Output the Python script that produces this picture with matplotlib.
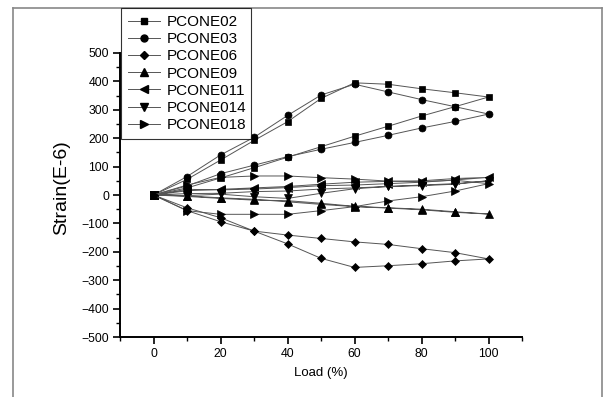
import matplotlib.pyplot as plt
from matplotlib.lines import Line2D

plt.rcParams['font.family'] = ['Liberation Sans', 'DejaVu Sans']

# load goes 0 -> 100, then back 100 -> 0
load = [0, 10, 20, 30, 40, 50, 60, 70, 80, 90, 100, 90, 80, 70, 60, 50, 40, 30, 20, 10, 0]

pcone02 = [0, 25, 60, 96, 133, 170, 207, 242, 278, 311, 345,
           360, 374, 390, 395, 340, 258, 192, 123, 55, 0]
pcone03 = [0, 32, 75, 105, 135, 161, 185, 210, 236, 259, 285,
           311, 336, 363, 390, 352, 280, 203, 141, 65, 0]
pcone06 = [0, -45, -80, -127, -141, -153, -165, -174, -189, -203, -225,
           -232, -242, -249, -255, -223, -172, -127, -94, -55, 0]
pcone09 = [0, -5, -12, -18, -20, -29, -40, -45, -50, -59, -67,
           -61, -52, -46, -41, -33, -24, -15, -10, -3, 0]
pcone011 = [0, 20, 18, 21, 26, 33, 35, 40, 45, 53, 62,
            58, 50, 48, 45, 38, 30, 25, 20, 15, 0]
pcone014 = [0, 5, 6, 12, 14, 21, 25, 30, 33, 38, 50,
            40, 35, 30, 22, 6, -12, -6, 3, -2, 0]
pcone018 = [0, -55, -68, -68, -68, -55, -41, -21, -6, 14, 40,
            52, 47, 49, 56, 61, 67, 67, 62, 35, 0]

names = ['PCONE02', 'PCONE03', 'PCONE06', 'PCONE09', 'PCONE011', 'PCONE014', 'PCONE018']
series = [pcone02, pcone03, pcone06, pcone09, pcone011, pcone014, pcone018]
markers = ['s', 'o', 'D', '^', '<', 'v', '>']
msizes = [4.8, 5.0, 4.5, 5.2, 5.2, 5.2, 5.2]

fig = plt.figure(figsize=(6.04, 3.97), dpi=100)
ax = fig.add_axes([0.1987, 0.1511, 0.6656, 0.7154])

for y, m, ms in zip(series, markers, msizes):
    ax.plot(load, y, color='#555555', lw=0.7, marker=m, ms=ms,
            mfc='black', mec='black', mew=0.5)

ax.set_xlim(-10, 110)
ax.set_ylim(-500, 500)
ax.set_xticks(range(0, 101, 20))
ax.set_xticks(range(-10, 111, 10), minor=True)
ax.set_yticks(range(-500, 501, 100))
ax.set_yticks(range(-500, 501, 50), minor=True)
ax.spines['top'].set_visible(False)
ax.spines['right'].set_visible(False)
for s in ['left', 'bottom']:
    ax.spines[s].set_linewidth(1.4)
ax.tick_params(which='major', length=5, width=1.2, labelsize=8.8, pad=3)
ax.tick_params(which='minor', length=3, width=1.0)
ax.set_xlabel('Load (%)', fontsize=9.5, labelpad=5)
ax.set_ylabel('Strain(E-6)', fontsize=14)
ax.yaxis.set_label_coords(-0.125, 0.525)

handles = [Line2D([], [], color='#555555', lw=0.7, marker=m, ms=ms, mfc='black', mec='black')
           for m, ms in zip(markers, msizes)]
leg = fig.legend(handles, names, loc='upper left', bbox_to_anchor=(0.2003, 0.6725, 0.215, 0.307),
                 mode='expand', fontsize=11, frameon=True, fancybox=False, borderpad=0.45,
                 labelspacing=0.21, handlelength=2.1, handletextpad=0.45, borderaxespad=0)
leg.get_frame().set_edgecolor('black')
leg.get_frame().set_linewidth(0.8)

# outer frame of the image
W, H = 604, 397
fig.add_artist(Line2D([13 / W, 13 / W], [0, 1 - 8 / H], color='#888888', lw=1.2))
fig.add_artist(Line2D([13 / W, 601.5 / W], [1 - 8 / H, 1 - 8 / H], color='#888888', lw=1.2))
fig.add_artist(Line2D([601.5 / W, 601.5 / W], [0, 1 - 8 / H], color='#888888', lw=1.2))

fig.savefig('out.png', dpi=100)
